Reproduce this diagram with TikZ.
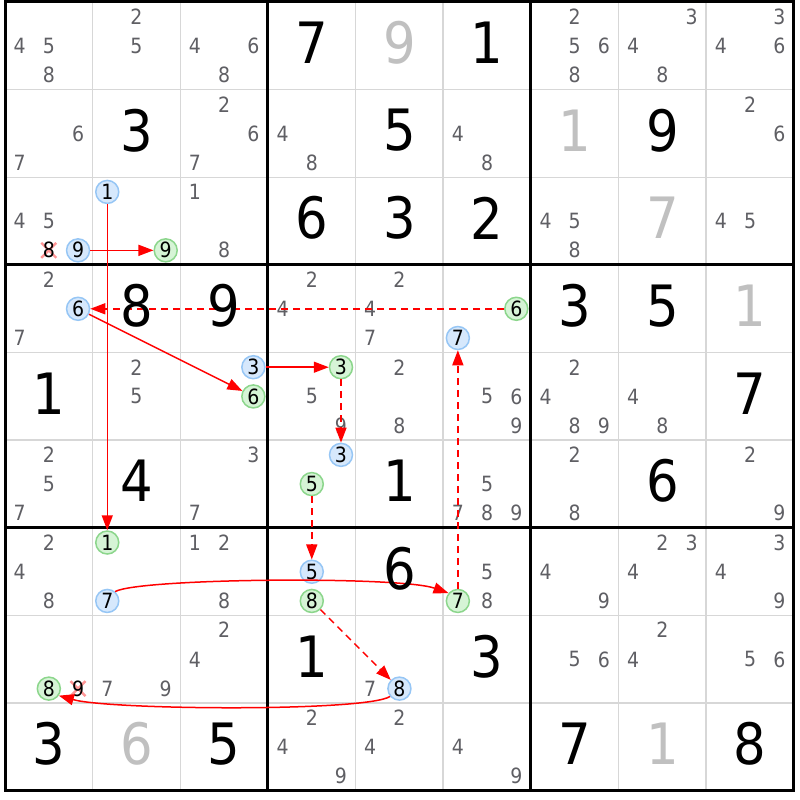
\documentclass[tikz,border=0pt]{standalone}
\usepackage{fontspec}
\setmainfont{DejaVu Sans Condensed}
\usetikzlibrary{arrows.meta,calc}
\definecolor{candgray}{RGB}{95,95,100}
\definecolor{solgray}{RGB}{192,192,192}
\definecolor{gridgray}{RGB}{215,215,215}
\definecolor{bluefill}{RGB}{214,232,252}
\definecolor{bluebd}{RGB}{150,198,245}
\definecolor{grnfill}{RGB}{214,244,214}
\definecolor{grnbd}{RGB}{140,214,140}
\definecolor{xpink}{RGB}{255,150,150}
\definecolor{linkred}{RGB}{255,0,0}
\newcommand\cand[4][]{\node[cnd,#1] (c#2#3#4) at ({5+(#3-1)*87.65+14.61+mod(#4-1,3)*29.22},{2+(#2-1)*87.65+14.61+int((#4-1)/3)*29.22}) {#4};}
\newcommand\cs[3]{\foreach \d in {#3} {\cand{#1}{#2}{\d}}}
\newcommand\givb[3]{\node[giv] (g#1#2) at ({5+(#2-0.5)*87.65},{2+(#1-0.5)*87.65-3}) {#3};}
\newcommand\givs[3]{\node[giv,text=solgray] (g#1#2) at ({5+(#2-0.5)*87.65},{2+(#1-0.5)*87.65-3}) {#3};}
\tikzset{
  cnd/.style={circle, inner sep=0pt, minimum size=23pt, font=\fontsize{21}{21}\selectfont, text=candgray},
  blu/.style={draw=bluebd, fill=bluefill, line width=1.5pt, text=black},
  grn/.style={draw=grnbd, fill=grnfill, line width=1.5pt, text=black},
  elim/.style={text=black},
  giv/.style={inner sep=0pt, font=\fontsize{57}{57}\selectfont, text=black},
  link/.style={-{Triangle[length=15pt,width=11pt]}},
  weak/.style={link, dash pattern=on 7pt off 5pt},
  xmk/.style={color=xpink, line width=2.4pt},
  thinline/.style={color=gridgray, line width=1.6pt},
  thickline/.style={color=black, line width=3pt}
}
\begin{document}
\begin{tikzpicture}[x=1pt,y=-1pt]
\fill[white] (0,0) rectangle (800,800);
\useasboundingbox (0,0) rectangle (800,800);
% grid
\foreach \i in {1,2,4,5,7,8} {
  \draw[thinline] ({5+\i*87.65},2) -- ({5+\i*87.65},790.85);
  \draw[thinline] (5,{2+\i*87.65}) -- (793.85,{2+\i*87.65});
}
\foreach \i in {3,6} {
  \draw[thickline] ({5+\i*87.65},2) -- ({5+\i*87.65},790.85);
  \draw[thickline] (5,{2+\i*87.65}) -- (793.85,{2+\i*87.65});
}
\draw[thickline] (5,2) rectangle (793.85,790.85);
% eliminated marks (drawn under the digits)
\coordinate (x318) at ({5+43.83},{2+2*87.65+73.04});
\coordinate (x819) at ({5+73.04},{2+7*87.65+73.04});
\draw[xmk] ($(x318)+(-7.5,-7.5)$) -- ($(x318)+(7.5,7.5)$);
\draw[xmk] ($(x318)+(-7.5,7.5)$) -- ($(x318)+(7.5,-7.5)$);
\draw[xmk] ($(x819)+(-7.5,-7.5)$) -- ($(x819)+(7.5,7.5)$);
\draw[xmk] ($(x819)+(-7.5,7.5)$) -- ($(x819)+(7.5,-7.5)$);
% row 1
\cs{1}{1}{4,5,8} \cs{1}{2}{2,5} \cs{1}{3}{4,6,8}
\cs{1}{7}{2,5,6,8} \cs{1}{8}{3,4,8} \cs{1}{9}{3,4,6}
% row 2
\cs{2}{1}{6,7} \cs{2}{3}{2,6,7} \cs{2}{4}{4,8} \cs{2}{6}{4,8} \cs{2}{9}{2,6}
% row 3
\cs{3}{1}{4,5} \cand[elim]{3}{1}{8} \cand[blu]{3}{1}{9}
\cand[blu]{3}{2}{1} \cand[grn]{3}{2}{9}
\cs{3}{3}{1,8} \cs{3}{7}{4,5,8} \cs{3}{9}{4,5}
% row 4
\cs{4}{1}{2,7} \cand[blu]{4}{1}{6}
\cs{4}{4}{2,4} \cs{4}{5}{2,4,7}
\cand[grn]{4}{6}{6} \cand[blu]{4}{6}{7}
% row 5
\cs{5}{2}{2,5} \cand[blu]{5}{3}{3} \cand[grn]{5}{3}{6}
\cand[grn]{5}{4}{3} \cs{5}{4}{5,9}
\cs{5}{5}{2,8} \cs{5}{6}{5,6,9} \cs{5}{7}{2,4,8,9} \cs{5}{8}{4,8}
% row 6
\cs{6}{1}{2,5,7} \cs{6}{3}{3,7}
\cand[blu]{6}{4}{3} \cand[grn]{6}{4}{5}
\cs{6}{6}{5,7,8,9} \cs{6}{7}{2,8} \cs{6}{9}{2,9}
% row 7
\cs{7}{1}{2,4,8} \cand[grn]{7}{2}{1} \cand[blu]{7}{2}{7}
\cs{7}{3}{1,2,8} \cand[blu]{7}{4}{5} \cand[grn]{7}{4}{8}
\cs{7}{6}{5,8} \cand[grn]{7}{6}{7}
\cs{7}{7}{4,9} \cs{7}{8}{2,3,4} \cs{7}{9}{3,4,9}
% row 8
\cand[grn]{8}{1}{8} \cand[elim]{8}{1}{9}
\cs{8}{2}{7,9} \cs{8}{3}{2,4}
\cand{8}{5}{7} \cand[blu]{8}{5}{8}
\cs{8}{7}{5,6} \cs{8}{8}{2,4} \cs{8}{9}{5,6}
% row 9
\cs{9}{4}{2,4,9} \cs{9}{5}{2,4} \cs{9}{6}{4,9}
% links
\begin{scope}[color=linkred, line width=1.5pt]
\draw[link] (c319) -- (c329);
\draw[link] (c321) -- (c721);
\draw[weak] (c466) -- (c416);
\draw[link] (c416) -- (c536);
\draw[link] (c533) -- (c543);
\draw[weak] (c543) -- (c643);
\draw[weak] (c645) -- (c745);
\draw[weak] (c748) -- (c858);
\draw[weak] (c767) -- (c467);
\draw[link] (c727.50) .. controls (140,578) and (400,576) .. (c767.140);
\draw[link] (c858.220) .. controls (365,712) and (110,710) .. (c818.-35);
\end{scope}
% givens
\givb{1}{4}{7} \givs{1}{5}{9} \givb{1}{6}{1}
\givb{2}{2}{3} \givb{2}{5}{5} \givs{2}{7}{1} \givb{2}{8}{9}
\givb{3}{4}{6} \givb{3}{5}{3} \givb{3}{6}{2} \givs{3}{8}{7}
\givb{4}{2}{8} \givb{4}{3}{9} \givb{4}{7}{3} \givb{4}{8}{5} \givs{4}{9}{1}
\givb{5}{1}{1} \givb{5}{9}{7}
\givb{6}{2}{4} \givb{6}{5}{1} \givb{6}{8}{6}
\givb{7}{5}{6}
\givb{8}{4}{1} \givb{8}{6}{3}
\givb{9}{1}{3} \givs{9}{2}{6} \givb{9}{3}{5} \givb{9}{7}{7} \givs{9}{8}{1} \givb{9}{9}{8}
\end{tikzpicture}
\end{document}
